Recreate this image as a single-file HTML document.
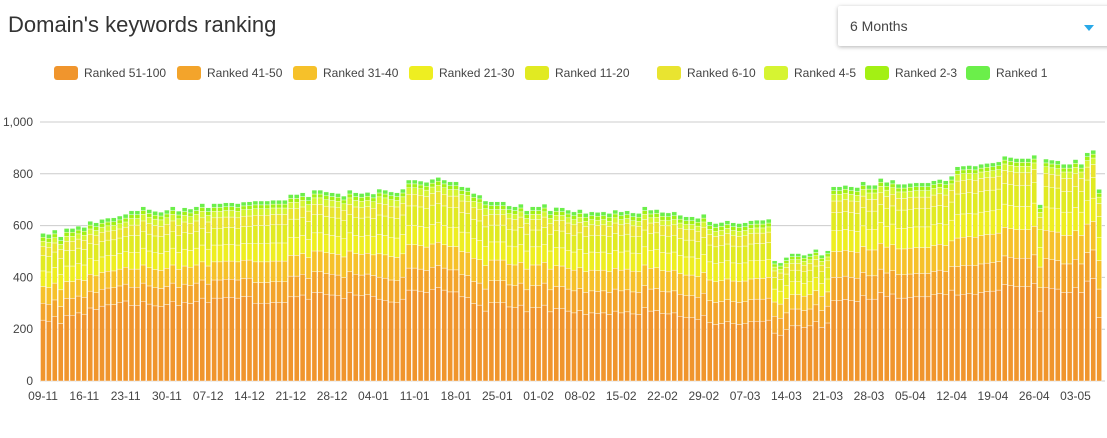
<!DOCTYPE html>
<html><head><meta charset="utf-8"><style>
body{margin:0;width:1107px;height:438px;background:#fff;font-family:"Liberation Sans",sans-serif;overflow:hidden;position:relative}
#title{position:absolute;left:8px;top:12px;font-size:22px;color:#333}
#dd{position:absolute;left:838px;top:6px;width:280px;height:40px;background:#fff;box-shadow:0 1px 4px rgba(0,0,0,.3);border-radius:2px}
#dd span{position:absolute;left:12px;top:12px;font-size:14px;color:#444}
#dd i{position:absolute;left:246px;top:19px;width:0;height:0;border-left:5px solid transparent;border-right:5px solid transparent;border-top:6px solid #29a9e8}
</style></head><body>
<div id="title">Domain's keywords ranking</div>
<div id="dd"><span>6 Months</span><i></i></div>
<svg id="chart" width="1107" height="438" style="position:absolute;left:0;top:0"></svg>
<script>
const seriesNames=["Ranked 51-100","Ranked 41-50","Ranked 31-40","Ranked 21-30","Ranked 11-20","Ranked 6-10","Ranked 4-5","Ranked 2-3","Ranked 1"];
const colors=["#f0952d","#f3a42b","#f6c12a","#eeee21","#e1ea22","#e9e430","#d6f432","#a3f014","#6bef4a"];
const yTicks=[0,200,400,600,800,1000];
const yTickLabels=["0","200","400","600","800","1,000"];
const xTickLabels=["09-11","16-11","23-11","30-11","07-12","14-12","21-12","28-12","04-01","11-01","18-01","25-01","01-02","08-02","15-02","22-02","29-02","07-03","14-03","21-03","28-03","05-04","12-04","19-04","26-04","03-05"];
const s1=[235,231,248,222,254,254,263,258,282,276,289,294,295,302,309,
292,292,308,297,290,287,295,308,291,304,299,308,320,304,320,320,323,323,320,326,327,
300,300,300,303,303,303,325,325,332,316,342,342,335,332,329,319,342,332,329,333,327,
316,312,305,302,316,351,351,347,342,354,361,351,344,344,325,322,299,293,270,
302,302,302,286,283,293,267,283,283,293,267,280,279,270,263,272,257,263,261,263,257,270,263,267,259,257,283,270,272,261,259,263,250,244,244,238,254,225,218,222,229,221,218,221,229,231,231,235,
185,177,198,213,213,207,213,229,207,224,
310,310,315,310,307,329,316,316,342,327,336,320,320,323,325,325,325,333,338,333,351,
332,335,337,335,342,345,347,351,373,368,364,364,364,377,270,362,358,355,342,342,360,342,386,396,245];
const s2=[65,65,65,65,65,65,65,65,65,65,65,65,65,65,65,
70,70,70,70,70,70,70,70,70,70,70,70,70,70,70,70,70,70,70,70,70,
80,80,80,80,80,80,80,80,80,80,80,80,80,80,80,80,80,80,80,80,80,
85,85,85,85,85,85,85,85,85,85,85,85,85,85,85,85,85,85,85,
85,85,85,85,85,85,85,85,85,85,85,85,85,85,85,85,85,85,85,85,85,85,85,85,85,85,85,85,85,85,85,85,85,85,85,85,85,85,85,85,85,85,85,85,85,85,85,85,
65,65,65,65,65,65,65,65,65,65,
90,90,90,90,90,90,90,90,90,90,90,90,90,90,90,90,90,90,90,90,90,
110,110,110,110,110,110,110,110,110,110,110,110,110,110,90,110,110,110,110,110,110,110,110,110,110];
const s3=[65,65,65,65,65,65,65,65,65,65,65,65,65,65,65,
70,70,70,70,70,70,70,70,70,70,70,70,70,70,70,70,70,70,70,70,70,
80,80,80,80,80,80,80,80,80,80,80,80,80,80,80,80,80,80,80,80,80,
90,90,90,90,90,90,90,90,90,90,90,90,90,90,90,90,90,90,90,
80,80,80,80,80,80,80,80,80,80,80,80,80,80,80,80,80,80,80,80,80,80,80,80,80,80,80,80,80,80,80,80,80,80,80,80,80,80,80,80,80,80,80,80,80,80,80,80,
55,55,55,55,55,55,55,55,55,55,
100,100,100,100,100,100,100,100,100,100,100,100,100,100,100,100,100,100,100,100,100,
110,110,110,110,110,110,110,110,110,110,110,110,110,110,80,110,110,110,110,110,110,110,110,110,110];
const s4=[60,60,60,60,60,60,60,60,60,60,60,60,60,60,60,
65,65,65,65,65,65,65,65,65,65,65,65,65,65,65,65,65,65,65,65,65,
70,70,70,70,70,70,70,70,70,70,70,70,70,70,70,70,70,70,70,70,70,
75,75,75,75,75,75,75,75,75,75,75,75,75,75,75,75,75,75,75,
70,70,70,70,70,70,70,70,70,70,70,70,70,70,70,70,70,70,70,70,70,70,70,70,70,70,70,70,70,70,70,70,70,70,70,70,70,70,70,70,70,70,70,70,70,70,70,70,
50,50,50,50,50,50,50,50,50,50,
80,80,80,80,80,80,80,80,80,80,80,80,80,80,80,80,80,80,80,80,80,
90,90,90,90,90,90,90,90,90,90,90,90,90,90,76,90,90,90,90,90,90,90,90,90,90];
const s5=[60,60,60,60,60,60,60,60,60,60,60,60,60,60,60,
65,65,65,65,65,65,65,65,65,65,65,65,65,65,65,65,65,65,65,65,65,
70,70,70,70,70,70,70,70,70,70,70,70,70,70,70,70,70,70,70,70,70,
75,75,75,75,75,75,75,75,75,75,75,75,75,75,75,75,75,75,75,
65,65,65,65,65,65,65,65,65,65,65,65,65,65,65,65,65,65,65,65,65,65,65,65,65,65,65,65,65,65,65,65,65,65,65,65,65,65,65,65,65,65,65,65,65,65,65,65,
45,45,45,45,45,45,45,45,45,45,
70,70,70,70,70,70,70,70,70,70,70,70,70,70,70,70,70,70,70,70,70,
80,80,80,80,80,80,80,80,80,80,80,80,80,80,70,80,80,80,80,80,80,80,80,80,80];
const s6=[35,35,35,35,35,35,35,35,35,35,35,35,35,35,35,
40,40,40,40,40,40,40,40,40,40,40,40,40,40,40,40,40,40,40,40,40,
40,40,40,40,40,40,40,40,40,40,40,40,40,40,40,40,40,40,40,40,40,
45,45,45,45,45,45,45,45,45,45,45,45,45,45,45,45,45,45,45,
40,40,40,40,40,40,40,40,40,40,40,40,40,40,40,40,40,40,40,40,40,40,40,40,40,40,40,40,40,40,40,40,40,40,40,40,40,40,40,40,40,40,40,40,40,40,40,40,
25,25,25,25,25,25,25,25,25,25,
45,45,45,45,45,45,45,45,45,45,45,45,45,45,45,45,45,45,45,45,45,
50,50,50,50,50,50,50,50,50,50,50,50,50,50,45,50,50,50,50,50,50,50,50,50,50];
const s7=[20,20,20,20,20,20,20,20,20,20,20,20,20,20,20,
25,25,25,25,25,25,25,25,25,25,25,25,25,25,25,25,25,25,25,25,25,
25,25,25,25,25,25,25,25,25,25,25,25,25,25,25,25,25,25,25,25,25,
25,25,25,25,25,25,25,25,25,25,25,25,25,25,25,25,25,25,25,
20,20,20,20,20,20,20,20,20,20,20,20,20,20,20,20,20,20,20,20,20,20,20,20,20,20,20,20,20,20,20,20,20,20,20,20,20,20,20,20,20,20,20,20,20,20,20,20,
15,15,15,15,15,15,15,15,15,15,
25,25,25,25,25,25,25,25,25,25,25,25,25,25,25,25,25,25,25,25,25,
25,25,25,25,25,25,25,25,25,25,25,25,25,25,20,25,25,25,25,25,25,25,25,25,25];
const s8=[15,15,15,15,15,15,15,15,15,15,15,15,15,15,15,
15,15,15,15,15,15,15,15,15,15,15,15,15,15,15,15,15,15,15,15,15,
15,15,15,15,15,15,15,15,15,15,15,15,15,15,15,15,15,15,15,15,15,
15,15,15,15,15,15,15,15,15,15,15,15,15,15,15,15,15,15,15,
15,15,15,15,15,15,15,15,15,15,15,15,15,15,15,15,15,15,15,15,15,15,15,15,15,15,15,15,15,15,15,15,15,15,15,15,15,15,15,15,15,15,15,15,15,15,15,15,
12,12,12,12,12,12,12,12,12,12,
15,15,15,15,15,15,15,15,15,15,15,15,15,15,15,15,15,15,15,15,15,
15,15,15,15,15,15,15,15,15,15,15,15,15,15,15,15,15,15,15,15,15,15,15,15,15];
const s9=[15,15,15,15,15,15,15,15,15,15,15,15,15,15,15,
15,15,15,15,15,15,15,15,15,15,15,15,15,15,15,15,15,15,15,15,15,
15,15,15,15,15,15,15,15,15,15,15,15,15,15,15,15,15,15,15,15,15,
15,15,15,15,15,15,15,15,15,15,15,15,15,15,15,15,15,15,15,
15,15,15,15,15,15,15,15,15,15,15,15,15,15,15,15,15,15,15,15,15,15,15,15,15,15,15,15,15,15,15,15,15,15,15,15,15,15,15,15,15,15,15,15,15,15,15,15,
12,12,12,12,12,12,12,12,12,12,
15,15,15,15,15,15,15,15,15,15,15,15,15,15,15,15,15,15,15,15,15,
15,15,15,15,15,15,15,15,15,15,15,15,15,15,15,15,15,15,15,15,15,15,15,15,15];
const series=[s1,s2,s3,s4,s5,s6,s7,s8,s9];
const NS="http://www.w3.org/2000/svg";
const svg=document.getElementById('chart');
const X0=40.5, STEP=5.9, BW=5, Y0=381, YMAX=1000, YH=259;
function xPos(i){return X0+i*STEP;}
function yPos(v){return Y0-v/YMAX*YH;}
function mk(tag,attrs){const e=document.createElementNS(NS,tag);for(const k in attrs)e.setAttribute(k,attrs[k]);svg.appendChild(e);return e;}
yTicks.forEach((t,k)=>{
  const ln=mk('line',{x1:40,x2:1105,y1:yPos(t),y2:yPos(t),stroke:'#ccc','stroke-width':1});
  
  
  const tx=mk('text',{x:33,y:yPos(t)+4,'text-anchor':'end','font-size':12,fill:'#444','font-family':'Liberation Sans, sans-serif'});
  tx.textContent=yTickLabels[k];
  
  
});
for(let i=0;i<s1.length;i++){
  let acc=0;
  series.forEach((s,j)=>{
    const v=s[i];
    const r=mk('rect',{x:xPos(i),y:yPos(acc+v),width:BW,height:Math.max(0,yPos(acc)-yPos(acc+v)),fill:colors[j],stroke:'#fff','stroke-width':0.4});
    
    
    acc+=v;
  });
}
xTickLabels.forEach((lb,k)=>{
  const tx=mk('text',{x:xPos(k*7)+BW/2,y:400,'text-anchor':'middle','font-size':12,fill:'#444','font-family':'Liberation Sans, sans-serif'});
  tx.textContent=lb;
  
  
});
const legX=[54,177,293,409,525,657,764,865,966];
seriesNames.forEach((n,j)=>{
  const r=mk('rect',{x:legX[j],y:66,width:24,height:14,rx:3,fill:colors[j]});
  
  
  const t=mk('text',{x:legX[j]+30,y:77,'font-size':12,fill:'#444','font-family':'Liberation Sans, sans-serif'});
  t.textContent=n;
  
  
});
</script>
</body></html>
